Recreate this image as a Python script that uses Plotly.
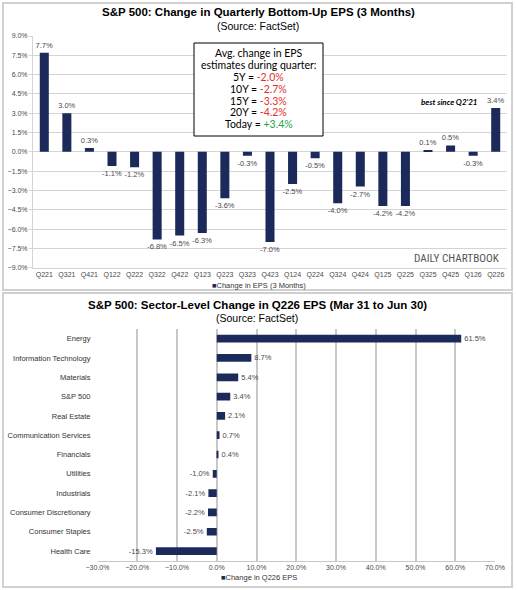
import plotly.graph_objects as go

W, H = 517, 590

# ---- Data: top chart ----
quarters = ["Q221", "Q321", "Q421", "Q122", "Q222", "Q322", "Q422", "Q123", "Q223", "Q323",
            "Q423", "Q124", "Q224", "Q324", "Q424", "Q125", "Q225", "Q325", "Q425", "Q126", "Q226"]
eps_change = [7.7, 3.0, 0.3, -1.1, -1.2, -6.8, -6.5, -6.3, -3.6, -0.3,
              -7.0, -2.5, -0.5, -4.0, -2.7, -4.2, -4.2, 0.1, 0.5, -0.3, 3.4]

box_periods = ["5Y", "10Y", "15Y", "20Y", "Today"]
box_values = ["-2.0%", "-2.7%", "-3.3%", "-4.2%", "+3.4%"]

# ---- Data: bottom chart ----
sectors = ["Energy", "Information Technology", "Materials", "S&P 500", "Real Estate",
           "Communication Services", "Financials", "Utilities", "Industrials",
           "Consumer Discretionary", "Consumer Staples", "Health Care"]
sector_change = [61.5, 8.7, 5.4, 3.4, 2.1, 0.7, 0.4, -1.0, -2.1, -2.2, -2.5, -15.3]

NAVY = "#1b2a5a"
GRID = "#d4d4d4"
TXT = "#4a4a4a"
FONT = "Liberation Sans, Arial, sans-serif"
BOXFONT = "Lato, Open Sans, sans-serif"

def px_x(x):
    return x / W

def px_y(y):
    return 1 - y / H

fig = go.Figure()

fig.add_trace(go.Bar(
    x=quarters, y=eps_change, marker_color=NAVY, width=0.4,
    name="Change in EPS (3 Months)",
    texttemplate="%{y:.1f}%", textposition="outside", constraintext="none",
    textfont=dict(size=7.5, color=TXT, family=FONT), cliponaxis=False,
    xaxis="x", yaxis="y", showlegend=False,
))

fig.add_trace(go.Bar(
    x=sector_change, y=sectors, orientation="h", marker_color=NAVY, width=0.4,
    name="Change in Q226 EPS",
    texttemplate="%{x:.1f}%", textposition="outside", constraintext="none",
    textfont=dict(size=7.5, color=TXT, family=FONT), cliponaxis=False,
    xaxis="x2", yaxis="y2", showlegend=False,
))

tickfont = dict(size=7, color=TXT, family=FONT)

fig.update_layout(
    template="none",
    width=W, height=H,
    margin=dict(l=0, r=0, t=0, b=0, pad=0, autoexpand=False),
    paper_bgcolor="white", plot_bgcolor="white",
    font=dict(family=FONT),
    showlegend=False,
    xaxis=dict(domain=[px_x(33), px_x(507)], range=[-0.5, 20.5], type="category",
               showgrid=False, showline=True, linecolor=GRID, linewidth=1, automargin=False,
               tickfont=tickfont, ticks="", fixedrange=True, anchor="y"),
    yaxis=dict(domain=[px_y(267.7), px_y(36)], range=[-9, 9], dtick=1.5, tick0=0,
               tickformat=".1f", ticksuffix="%", showgrid=True, gridcolor=GRID, gridwidth=1,
               zeroline=True, zerolinecolor=GRID, zerolinewidth=1, automargin=False,
               showline=True, linecolor=GRID, linewidth=1, ticks="outside", ticklen=3,
               tickcolor=GRID, tickfont=tickfont, anchor="x"),
    xaxis2=dict(domain=[px_x(97.5), px_x(495)], range=[-30, 70], dtick=10, tick0=0,
                tickformat=".1f", ticksuffix="%", showgrid=True, gridcolor="#c8c8c8",
                gridwidth=1.5, zeroline=False, showline=True, linecolor="#c8c8c8",
                linewidth=1, tickfont=tickfont, ticks="", automargin=False, anchor="y2"),
    yaxis2=dict(domain=[px_y(560.7), px_y(329)], type="category", range=[11.5, -0.5],
                showgrid=False, showline=False, zeroline=False, automargin=False,
                tickfont=dict(size=7.5, color="#333333", family=FONT),
                ticks="", ticklabelstandoff=6, anchor="x2"),
)

shapes = []
shapes.append(dict(type="rect", xref="paper", yref="paper", x0=px_x(3), x1=px_x(512),
                   y0=px_y(290), y1=px_y(3), line=dict(color="#d0d0d0", width=2)))
shapes.append(dict(type="rect", xref="paper", yref="paper", x0=px_x(3), x1=px_x(512),
                   y0=px_y(587), y1=px_y(293), line=dict(color="#d0d0d0", width=2)))
shapes.append(dict(type="rect", xref="paper", yref="paper", x0=px_x(194), x1=px_x(323),
                   y0=px_y(136), y1=px_y(43), line=dict(color="black", width=1),
                   fillcolor="white", layer="above"))
fig.update_layout(shapes=shapes)

ann = []
ann.append(dict(text="<b>S&P 500: Change in Quarterly Bottom-Up EPS (3 Months)</b>",
                x=px_x(258), y=px_y(12.5), xref="paper", yref="paper", showarrow=False,
                font=dict(size=11.5, color="black", family=FONT), xanchor="center", yanchor="middle"))
ann.append(dict(text="(Source: FactSet)", x=px_x(258), y=px_y(25.5), xref="paper", yref="paper",
                showarrow=False, font=dict(size=10.5, color="black", family=FONT),
                xanchor="center", yanchor="middle"))
ann.append(dict(text="<b>S&P 500: Sector-Level Change in Q226 EPS (Mar 31 to Jun 30)</b>",
                x=px_x(257), y=px_y(305), xref="paper", yref="paper", showarrow=False,
                font=dict(size=11.5, color="black", family=FONT), xanchor="center", yanchor="middle"))
ann.append(dict(text="(Source: FactSet)", x=px_x(257), y=px_y(318), xref="paper", yref="paper",
                showarrow=False, font=dict(size=10.5, color="black", family=FONT),
                xanchor="center", yanchor="middle"))

box_lines = ["Avg. change in EPS", "estimates during quarter:"]
for j, (p, v) in enumerate(zip(box_periods, box_values)):
    col = "#1fa34a" if v.startswith("+") else "#e0302e"
    box_lines.append(f"{p} = <span style='color:{col}'>{v}</span>")
ys = [53, 65, 77, 89, 100.5, 112, 124]
for i, t in enumerate(box_lines):
    ann.append(dict(text=t, x=px_x(258.5), y=px_y(ys[i]), xref="paper", yref="paper",
                    showarrow=False, font=dict(size=10.5, color="black", family=BOXFONT),
                    xanchor="center", yanchor="middle"))

ann.append(dict(text="<b><i>best since Q2'21</i></b>", x=px_x(479), y=px_y(102.5),
                xref="paper", yref="paper", showarrow=False, xanchor="right", yanchor="middle",
                font=dict(size=8, color="black", family=BOXFONT)))
ann.append(dict(text="DAILY CHARTBOOK", x=px_x(502), y=px_y(258), xref="paper", yref="paper",
                showarrow=False, xanchor="right", yanchor="middle",
                font=dict(size=11.2, color="#555555",
                          family="Liberation Sans Narrow, Roboto Condensed, Lato, sans-serif")))

# legends
ann.append(dict(text=f"<span style='color:{NAVY}'>■</span>Change in EPS (3 Months)",
                x=px_x(259), y=px_y(285.5), xref="paper", yref="paper", showarrow=False,
                xanchor="center", yanchor="middle", font=dict(size=7.5, color="#333333", family=FONT)))
ann.append(dict(text=f"<span style='color:{NAVY}'>■</span>Change in Q226 EPS",
                x=px_x(259), y=px_y(577.5), xref="paper", yref="paper", showarrow=False,
                xanchor="center", yanchor="middle", font=dict(size=7.5, color="#333333", family=FONT)))

fig.update_layout(annotations=ann)

fig.write_html("out.html")
